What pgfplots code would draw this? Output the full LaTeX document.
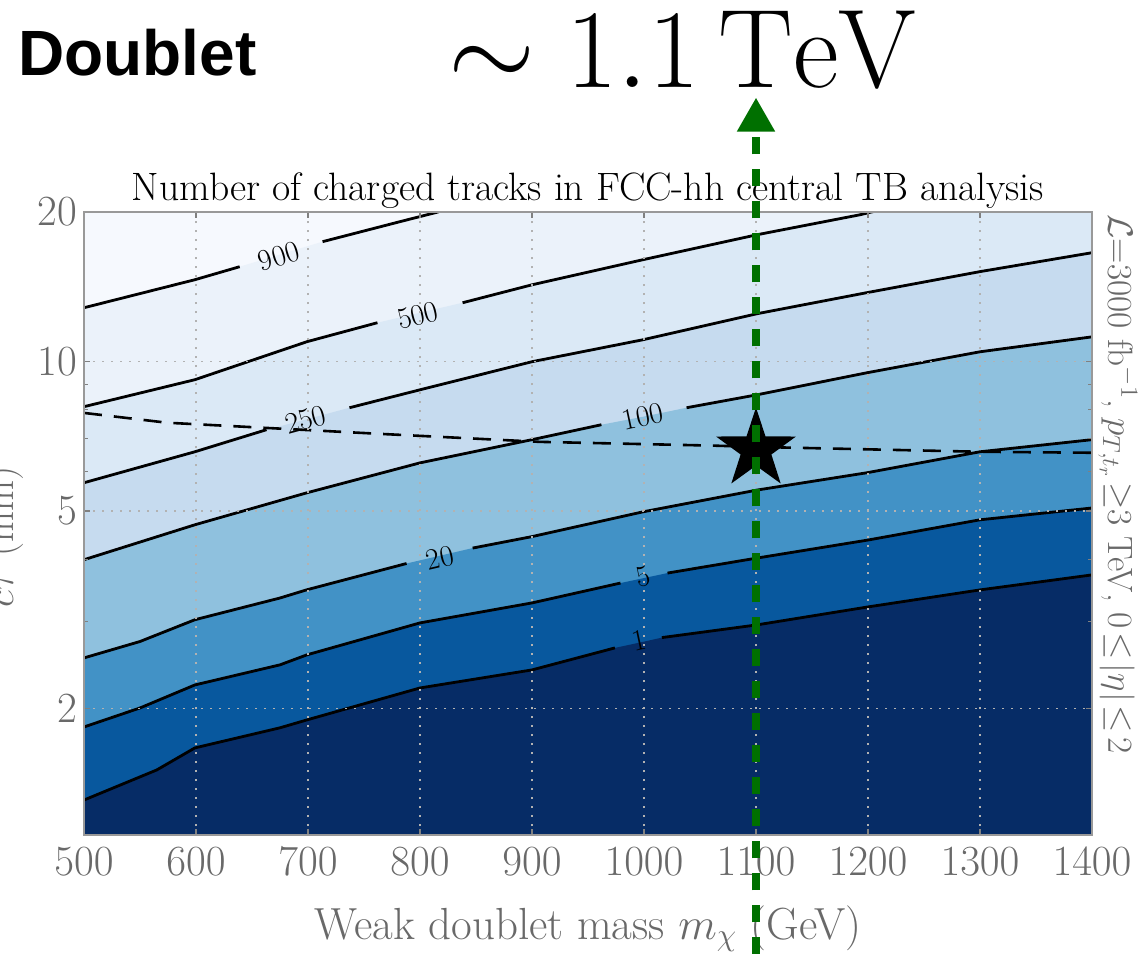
\RequirePackage{fix-cm}
\documentclass[border=0pt]{standalone}
\usepackage{fontspec}
\usepackage{pgfplots}
\pgfplotsset{compat=1.18}
\usetikzlibrary{arrows.meta,shapes.geometric}
\newfontfamily\helv{Liberation Sans}

% Blues bands, lightest (above 900) to darkest (below 1)
\definecolor{bA}{RGB}{246,249,254}
\definecolor{bB}{RGB}{235,242,250}
\definecolor{bC}{RGB}{219,233,246}
\definecolor{bD}{RGB}{198,219,239}
\definecolor{bE}{RGB}{143,193,222}
\definecolor{bF}{RGB}{66,146,198}
\definecolor{bG}{RGB}{8,88,158}
\definecolor{bH}{RGB}{6,44,102}
\definecolor{tickgray}{RGB}{105,105,105}
\definecolor{darkgreen}{RGB}{0,112,0}

\pgfdeclareplotmark{bigstar}{\node[star,star points=5,star point ratio=2.6,minimum size=42pt,inner sep=0pt,fill=black,draw=none]{};}

\tikzset{
  cline/.style={black, line width=1.4pt},
  clab/.style={font=\fontsize{15}{15}\selectfont, inner sep=0pt},
}

\begin{document}
\begin{tikzpicture}
\begin{axis}[
  name=ax,
  at={(42pt,-417.5pt)}, anchor=south west,
  scale only axis, width=504pt, height=311.5pt,
  xmin=500, xmax=1400,
  ymode=log, ymin=1.113, ymax=20,
  xtick={500,600,...,1400},
  ytick={2,5,10,20}, yticklabels={2,5,10,20},
  minor ytick={3,4,6,7,8,9},
  /pgf/number format/1000 sep={},
  tick label style={font=\fontsize{21.5}{21.5}\selectfont, text=tickgray},
  xticklabel style={yshift=-3pt},
  axis line style={draw=gray!80, line width=0.6pt},
  tick style={draw=gray, line width=0.6pt},
  major tick length=3pt, minor tick length=2pt,
  grid=major,
  grid style={draw=gray!60, line width=0.7pt, dash pattern=on 1pt off 3.5pt},
  axis on top,
  title={Number of charged tracks in FCC-hh central TB analysis},
  title style={font=\fontsize{19.8}{22}\selectfont, at={(0.5,1)}, anchor=base, yshift=0pt},
  xlabel={Weak doublet mass $m_\chi$ (GeV)},
  xlabel style={font=\fontsize{22.5}{22.5}\selectfont, text=tickgray, yshift=-8pt},
]

% filled bands
\addplot[fill=bA, draw=none] coordinates {(500,1)(1400,1)(1400,25)(500,25)};
\addplot[fill=bB, draw=none] coordinates {(500,12.83)(599,14.61)(639,15.52)(713,17.43)(782,19.12)(816,20)(830,20.6)(1400,21)(1400,1)(500,1)};
\addplot[fill=bC, draw=none] coordinates {(500,8.11)(599,9.19)(699,10.96)(762,11.97)(838,13.13)(900,14.27)(999,16.03)(1101,18.00)(1193,19.75)(1215,20.3)(1400,21)(1400,1)(500,1)};
\addplot[fill=bD, draw=none] coordinates {(500,5.70)(599,6.58)(663,7.29)(699,7.65)(737,8.07)(800,8.77)(900,9.99)(999,11.06)(1101,12.48)(1199,13.76)(1300,15.17)(1400,16.56)(1400,1)(500,1)};
\addplot[fill=bE, draw=none] coordinates {(500,3.99)(599,4.69)(699,5.44)(800,6.25)(900,6.96)(962,7.46)(999,7.74)(1038,8.07)(1101,8.57)(1199,9.49)(1300,10.46)(1400,11.21)(1400,1)(500,1)};
\addplot[fill=bF, draw=none] coordinates {(500,2.53)(550,2.73)(599,3.02)(675,3.34)(699,3.47)(788,3.92)(847,4.21)(900,4.44)(999,4.98)(1101,5.51)(1199,5.97)(1300,6.58)(1400,6.96)(1400,1)(500,1)};
\addplot[fill=bG, draw=none] coordinates {(500,1.837)(550,2.006)(599,2.232)(675,2.45)(699,2.566)(800,2.976)(900,3.265)(979,3.58)(999,3.66)(1021,3.75)(1101,4.02)(1200,4.37)(1300,4.80)(1400,5.07)(1400,1)(500,1)};
\addplot[fill=bH, draw=none] coordinates {(500,1.309)(565,1.505)(599,1.667)(675,1.83)(699,1.898)(800,2.201)(900,2.393)(974,2.65)(999,2.725)(1016,2.78)(1101,2.949)(1200,3.205)(1300,3.468)(1400,3.718)(1400,1)(500,1)};

% contour lines, broken where labelled
\addplot[cline] coordinates {(500,12.83)(599,14.61)(639,15.52)};
\addplot[cline] coordinates {(713,17.43)(782,19.12)(816,20)(830,20.6)};
\addplot[cline] coordinates {(500,8.11)(599,9.19)(699,10.96)(762,11.97)};
\addplot[cline] coordinates {(838,13.13)(900,14.27)(999,16.03)(1101,18.00)(1193,19.75)(1215,20.3)};
\addplot[cline] coordinates {(500,5.70)(599,6.58)(663,7.29)};
\addplot[cline] coordinates {(737,8.07)(800,8.77)(900,9.99)(999,11.06)(1101,12.48)(1199,13.76)(1300,15.17)(1400,16.56)};
\addplot[cline] coordinates {(500,3.99)(599,4.69)(699,5.44)(800,6.25)(900,6.96)(962,7.46)};
\addplot[cline] coordinates {(1038,8.07)(1101,8.57)(1199,9.49)(1300,10.46)(1400,11.21)};
\addplot[cline] coordinates {(500,2.53)(550,2.73)(599,3.02)(675,3.34)(699,3.47)(788,3.92)};
\addplot[cline] coordinates {(847,4.21)(900,4.44)(999,4.98)(1101,5.51)(1199,5.97)(1300,6.58)(1400,6.96)};
\addplot[cline] coordinates {(500,1.837)(550,2.006)(599,2.232)(675,2.45)(699,2.566)(800,2.976)(900,3.265)(979,3.58)};
\addplot[cline] coordinates {(1021,3.75)(1101,4.02)(1200,4.37)(1300,4.80)(1400,5.07)};
\addplot[cline] coordinates {(500,1.309)(565,1.505)(599,1.667)(675,1.83)(699,1.898)(800,2.201)(900,2.393)(974,2.65)};
\addplot[cline] coordinates {(1016,2.78)(1101,2.949)(1200,3.205)(1300,3.468)(1400,3.718)};

\node[clab, rotate=17] at (axis cs:674,16.26) {900};
\node[clab, rotate=14] at (axis cs:798,12.37) {500};
\node[clab, rotate=15] at (axis cs:698,7.63) {250};
\node[clab, rotate=12] at (axis cs:999,7.74) {100};
\node[clab, rotate=13] at (axis cs:818,4.02) {20};
\node[clab, rotate=12] at (axis cs:999,3.68) {5};
\node[clab, rotate=12] at (axis cs:996,2.75) {1};

% dashed line and benchmark point
\addplot[black, line width=1.3pt, dash pattern=on 9pt off 6pt] coordinates {(500,7.88)(574,7.53)(764,7.15)(907,6.89)(1062,6.77)(1100,6.73)(1300,6.58)(1400,6.55)};
\addplot[only marks, mark=bigstar] coordinates {(1100,6.65)};

\coordinate (gbot) at (axis cs:1100,0.64);
\coordinate (gtop) at (axis cs:1100,34);
\end{axis}

\node[rotate=-90, anchor=south west, inner sep=0pt, text=tickgray, font=\fontsize{17.6}{17.6}\selectfont]
  at ([xshift=3pt,yshift=-1pt]ax.north east)
  {$\mathcal{L}$=3000 fb$^{-1}$, $p_{T,t_r}\!\geq$3 TeV, $0\!\leq\!|\eta|\!\leq\!2$};
\node[rotate=90, anchor=base, inner sep=0pt, text=tickgray, font=\fontsize{20}{20}\selectfont]
  at (6.5pt,-268.5pt) {$c\tau$ (mm)};

\node[anchor=base west, inner sep=0pt, font=\helv\bfseries\fontsize{32}{32}\selectfont] at (9pt,-37.5pt) {Doublet};
\node[anchor=base west, inner sep=0pt, font=\fontsize{56}{56}\selectfont] at (224pt,-43.5pt) {$\sim 1.1\,\mathrm{TeV}$};

\draw[darkgreen, line width=4pt, dash pattern=on 8.5pt off 7.5pt, -{Triangle[width=18pt,length=17pt]}] (gbot) -- (gtop);

\pgfresetboundingbox
\useasboundingbox (0,0) rectangle (570pt,-476.5pt);
\end{tikzpicture}
\end{document}
